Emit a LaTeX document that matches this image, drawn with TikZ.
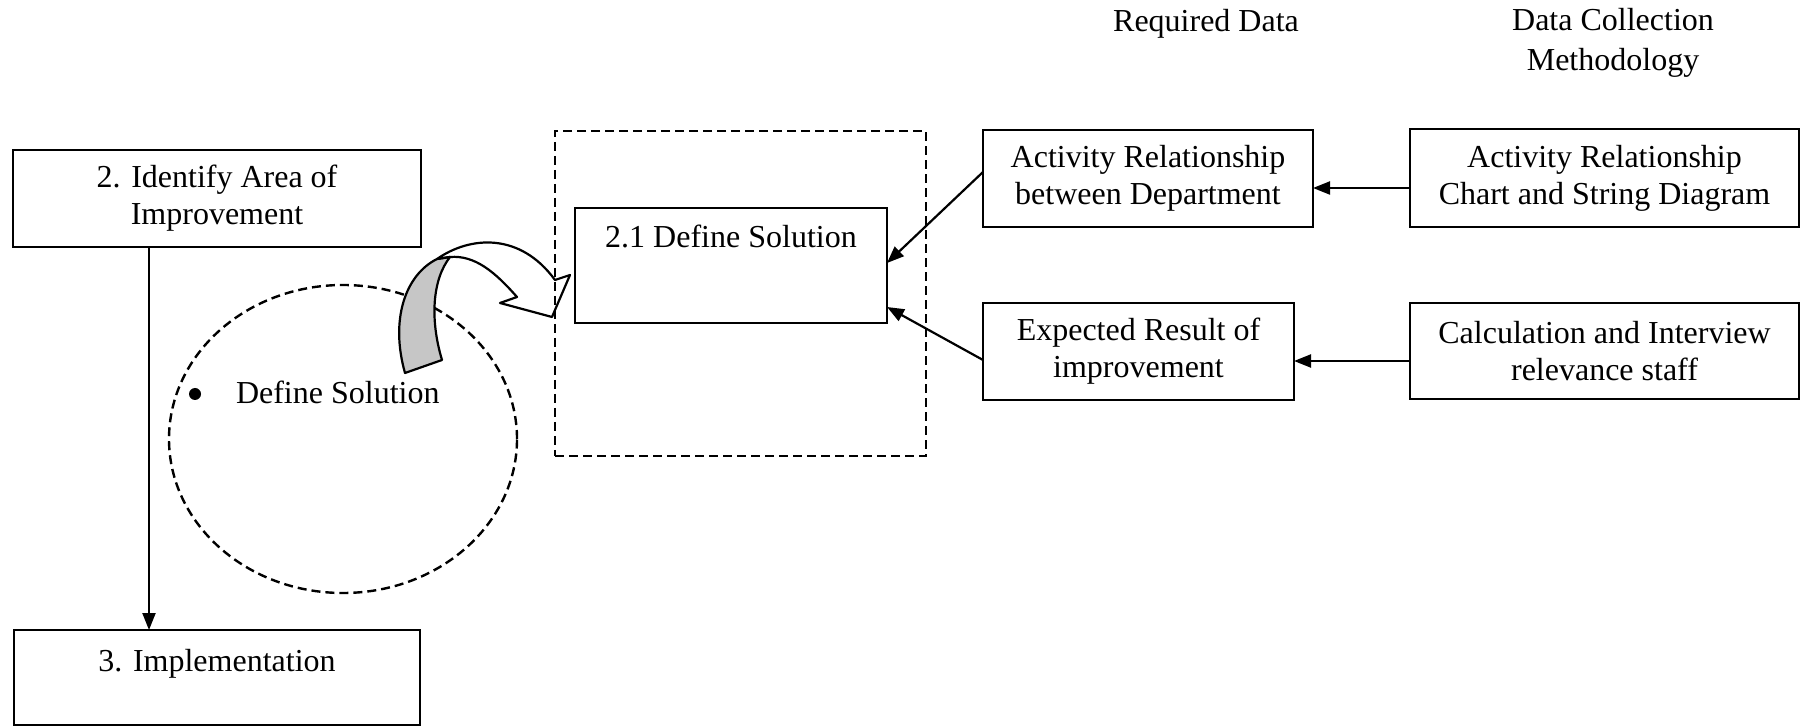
\documentclass[tikz,border=0pt]{standalone}
\usepackage{fontspec}
\setmainfont{Liberation Serif}
\usetikzlibrary{arrows.meta,shapes.geometric}
\begin{document}
\begin{tikzpicture}[x=0.5pt,y=-0.5pt,
  every node/.style={font=\fontsize{16pt}{18.5pt}\selectfont, inner sep=0pt, outer sep=0pt},
  box/.style={draw, line width=1.2pt, align=center},
  dashedline/.style={line width=1.2pt, dash pattern=on 4.5pt off 2.5pt},
  arr/.style={line width=1.1pt, -{Triangle[length=8.5pt,width=6.5pt]}},
  ribbon/.style={line width=1.1pt, line join=round}]
\useasboundingbox (0,0) rectangle (1803,726);

% column headings
\node[anchor=base] (hreq) at (1206,32) {Required Data};
\node[align=center] (hmeth) at (1613,43) {Data Collection\\[1.5pt]Methodology};

% main process steps
\node[box, minimum width=204pt, minimum height=48.5pt] (step2) at (217,198.5)
  {2. Identify Area of\\Improvement};
\node[box, minimum width=203pt, minimum height=47.5pt] (step3) at (217,677.5) {};
\node[anchor=base] (step3text) at (217,671) {3. Implementation};

% sub-step frame and box
\node[draw, dashedline, minimum width=185.5pt, minimum height=162.5pt] (frame) at (740.5,293.5) {};
\node[box, minimum width=156pt, minimum height=57.5pt] (ds) at (731,265.5) {};
\node[anchor=base] (dstext) at (731,248) {2.1 Define Solution};

% required data
\node[box, minimum width=165pt, minimum height=48.5pt] (AR) at (1148,178.5)
  {Activity Relationship\\between Department};
\node[box, minimum width=155.5pt, minimum height=48.5pt] (ER) at (1138.5,351.5)
  {Expected Result of\\improvement};

% data collection methodology
\node[box, minimum width=194.5pt, minimum height=49pt] (AC) at (1604.5,178)
  {Activity Relationship\\Chart and String Diagram};
\node[box, minimum width=194.5pt, minimum height=48pt] (CI) at (1604.5,351)
  {Calculation and Interview\\relevance staff};

% dashed zoom circle with its bullet item
\node[draw, ellipse, dashedline, minimum width=174pt, minimum height=154pt] (loop) at (343,439) {};
\node[circle, fill, minimum size=6pt] (dot) at (195,394) {};
\node[anchor=base west] (bullet) at (236,404) {Define Solution};

% connectors
\coordinate (x1) at (149,0);
\draw[arr] (step2.south -| x1) -- (step3.north -| x1);
\coordinate (y1) at (0,188);
\draw[arr] (AC.west |- y1) -- (AR.east |- y1);
\coordinate (y2) at (0,361);
\draw[arr] (CI.west |- y2) -- (ER.east |- y2);
\coordinate (y3) at (0,172);
\coordinate (y4) at (0,263);
\draw[arr] (AR.west |- y3) -- (ds.east |- y4);
\coordinate (y5) at (0,360);
\coordinate (y6) at (0,307);
\draw[arr] (ER.west |- y5) -- (ds.east |- y6);

% twisted block arrow from the circle to the frame
\draw[ribbon, fill=gray!45] (437,259) .. controls (405,275) and (390,320) .. (405,373)
  -- (442,360) .. controls (430,320) and (432,280) .. (450,257) -- cycle;
\draw[ribbon] (437,259) .. controls (470,236) and (520,232) .. (555,280)
  -- (570,275) -- (552,317) -- (500,303) -- (517,297)
  .. controls (495,272) and (475,255) .. (450,257) -- cycle;
\end{tikzpicture}
\end{document}
